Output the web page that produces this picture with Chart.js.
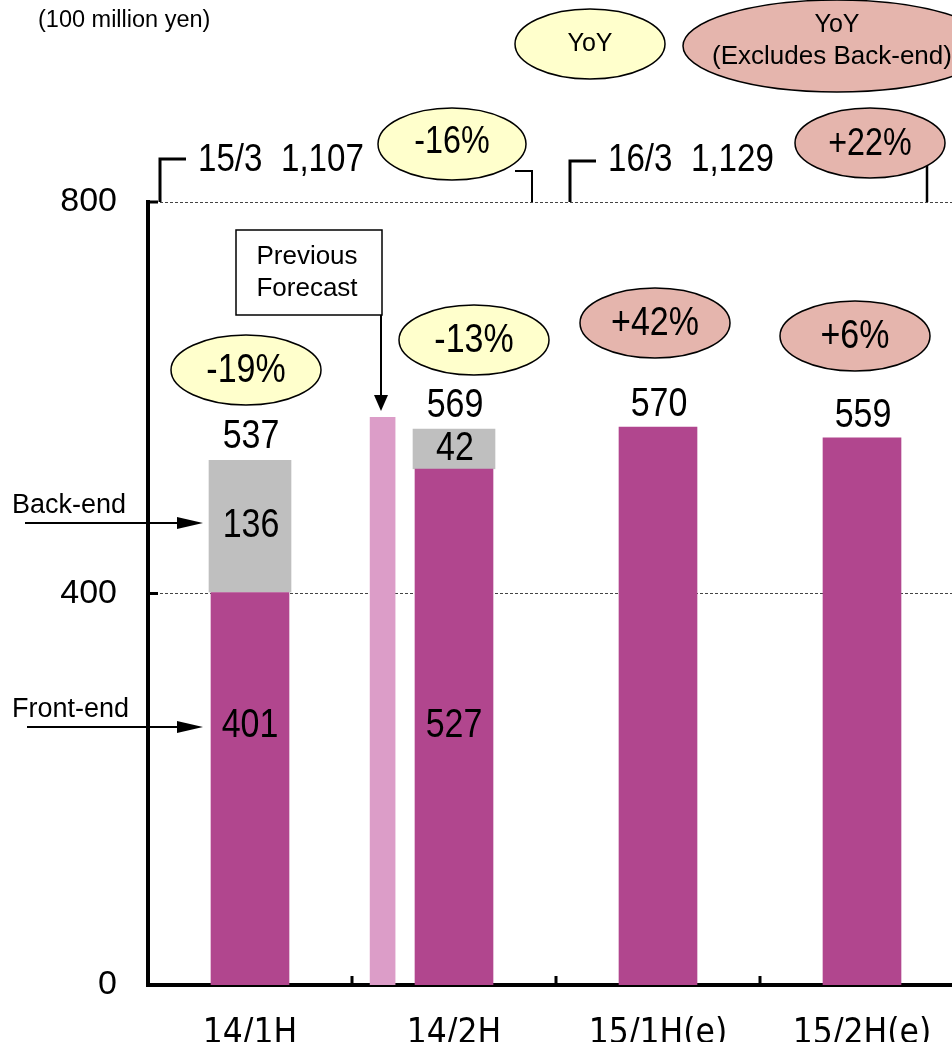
<!DOCTYPE html>
<html>
<head>
<meta charset="utf-8">
<script src="https://cdn.jsdelivr.net/npm/chart.js@4.4.0/dist/chart.umd.min.js"></script>
<style>
html, body { margin: 0; padding: 0; background: #fff; overflow: hidden; }
#wrap { width: 968px; height: 1042px; }
</style>
</head>
<body>
<div id="wrap"><canvas id="sales-chart" width="968" height="1042"></canvas></div>
<script>
// values (100 million yen)
var categories    = ['14/1H', '14/2H', '15/1H(e)', '15/2H(e)'];
var front_end     = [401, 527, 570, 559];
var back_end      = [136, 42, null, null];
var totals        = [537, 569, 570, 559];
var prev_forecast = 580;              // previous forecast for 14/2H
var yoy_labels    = ['-19%', '-13%', '+42%', '+6%'];
var yoy_ex_back   = [false, false, true, true];
var y_ticks       = [0, 400, 800];
var fy_labels     = ['15/3  1,107', '16/3  1,129'];
var fy_yoy        = ['-16%', '+22%'];
var fy_ex_back    = [false, true];

var SANS = '"Liberation Sans", Arial, sans-serif';
var COND = '"DejaVu Sans Condensed", "DejaVu Sans", sans-serif';
var YELLOW = '#FFFFCC', SALMON = '#E5B5AD';

ellipse = (ctx, cx, cy, rx, ry, fill) => {
    ctx.beginPath();
    ctx.ellipse(cx, cy, rx, ry, 0, 0, Math.PI * 2);
    ctx.fillStyle = fill;
    ctx.fill();
    ctx.lineWidth = 1.5;
    ctx.strokeStyle = '#000';
    ctx.stroke();
}

text = (ctx, str, x, y, font, align) => {
    ctx.font = font;
    ctx.fillStyle = '#000';
    ctx.textAlign = align || 'center';
    ctx.textBaseline = 'middle';
    ctx.fillText(str, x, y);
}

// narrow numerals: Liberation Sans squeezed horizontally
ntext = (ctx, str, x, y, size, align) => {
    ctx.save();
    ctx.translate(x, y);
    ctx.scale(0.85, 1);
    text(ctx, str, 0, 0, size + 'px ' + SANS, align);
    ctx.restore();
}

line = (ctx, pts, w) => {
    ctx.beginPath();
    ctx.moveTo(pts[0][0], pts[0][1]);
    for (var i = 1; i < pts.length; i++) ctx.lineTo(pts[i][0], pts[i][1]);
    ctx.lineWidth = w;
    ctx.strokeStyle = '#000';
    ctx.stroke();
}

arrowRight = (ctx, x1, x2, y) => {
    line(ctx, [[x1, y], [x2 - 20, y]], 2);
    ctx.beginPath();
    ctx.moveTo(x2, y); ctx.lineTo(x2 - 26, y - 6); ctx.lineTo(x2 - 26, y + 6); ctx.closePath();
    ctx.fillStyle = '#000';
    ctx.fill();
}

var annotations = {
    id: 'annotations',
    afterDraw: (chart) => {
        var ctx = chart.ctx, xs = chart.scales.x, ys = chart.scales.y;
        var area = chart.chartArea;
        ctx.save();

        // small inside tick marks
        y_ticks.slice(1).forEach(v => {
            var py = ys.getPixelForValue(v);
            line(ctx, [[area.left, py], [area.left + 10, py]], 3);
        });
        for (var i = 1; i < categories.length; i++) {
            var bx = (xs.getPixelForValue(i - 1) + xs.getPixelForValue(i)) / 2;
            line(ctx, [[bx, area.bottom], [bx, area.bottom - 9]], 3);
        }

        text(ctx, '(100 million yen)', 38, 21, '23.5px ' + SANS, 'left');

        // legend ellipses
        ellipse(ctx, 590, 44, 75, 35, YELLOW);
        text(ctx, 'YoY', 590, 44, '25px ' + SANS);
        ellipse(ctx, 837, 46, 154, 46, SALMON);
        text(ctx, 'YoY', 837, 25, '25px ' + SANS);
        text(ctx, '(Excludes Back-end)', 832, 57, '26px ' + SANS);

        // fiscal-year brackets
        var top = ys.getPixelForValue(800);
        line(ctx, [[160, top], [160, 159], [186, 159]], 3);
        line(ctx, [[515, 171], [532, 171], [532, top]], 2);
        line(ctx, [[570, top], [570, 161], [596, 161]], 3);
        line(ctx, [[927, 166], [927, top]], 2.5);
        ntext(ctx, fy_labels[0], 198, 160, 39, 'left');
        ntext(ctx, fy_labels[1], 608, 160, 39, 'left');
        ellipse(ctx, 452, 144, 74, 36, fy_ex_back[0] ? SALMON : YELLOW);
        ntext(ctx, fy_yoy[0], 452, 143, 38);
        ellipse(ctx, 870, 143, 75, 35, fy_ex_back[1] ? SALMON : YELLOW);
        ntext(ctx, fy_yoy[1], 870, 145, 38);

        // YoY ellipses above the bars
        var yoy_pos = [[246, 370], [474, 340], [655, 323], [855, 336]];
        yoy_labels.forEach((s, i) => {
            ellipse(ctx, yoy_pos[i][0], yoy_pos[i][1], 75, 35, yoy_ex_back[i] ? SALMON : YELLOW);
            ntext(ctx, s, yoy_pos[i][0], yoy_pos[i][1] + 1, 40);
        });

        // bar values
        categories.forEach((c, i) => {
            var cx = xs.getPixelForValue(i);
            ntext(ctx, String(totals[i]), cx + 1, ys.getPixelForValue(totals[i]) - 22, 40);
            if (back_end[i] != null) {
                ntext(ctx, String(back_end[i]), cx + 1, ys.getPixelForValue(front_end[i] + back_end[i] / 2), 40);
                ntext(ctx, String(front_end[i]), cx, ys.getPixelForValue(265), 40);
            }
        });

        // previous forecast call-out
        ctx.fillStyle = '#fff';
        ctx.fillRect(236, 230, 146, 85);
        ctx.lineWidth = 1.5;
        ctx.strokeStyle = '#000';
        ctx.strokeRect(236, 230, 146, 85);
        text(ctx, 'Previous', 307, 257, '26px ' + SANS);
        text(ctx, 'Forecast', 307, 289, '26px ' + SANS);
        line(ctx, [[381, 315], [381, 398]], 2);
        ctx.beginPath();
        ctx.moveTo(381, 411); ctx.lineTo(374, 395); ctx.lineTo(388, 395); ctx.closePath();
        ctx.fillStyle = '#000';
        ctx.fill();

        // segment labels with arrows
        text(ctx, 'Back-end', 12, 506, '27px ' + SANS, 'left');
        arrowRight(ctx, 25, 203, 523);
        text(ctx, 'Front-end', 12, 710, '27px ' + SANS, 'left');
        arrowRight(ctx, 27, 203, 727);

        ctx.restore();
    }
};

(function () {
    new Chart(document.getElementById('sales-chart'), {
        type: 'bar',
        data: {
            labels: categories,
            datasets: [{
                label: 'Front-end',
                data: front_end,
                backgroundColor: '#B1468E',
                barThickness: 78,
                stack: 'main',
                grouped: false
            }, {
                label: 'Back-end',
                data: back_end,
                backgroundColor: '#BFBFBF',
                borderColor: '#fff',
                borderWidth: 1,
                barThickness: 84,
                stack: 'main',
                grouped: false
            }, {
                label: 'Previous Forecast',
                data: [{ x: categories.indexOf('14/2H') - 0.35, y: prev_forecast }],
                xAxisID: 'xf',
                backgroundColor: '#DC9DC8',
                barThickness: 25,
                stack: 'main',
                grouped: false
            }]
        },
        options: {
            responsive: false,
            animation: false,
            layout: { padding: { top: 202, right: 4, left: 0, bottom: 0 } },
            plugins: { legend: { display: false }, tooltip: { enabled: false } },
            scales: {
                x: {
                    stacked: true,
                    grid: { display: false },
                    border: { color: '#000', width: 4 },
                    ticks: { color: '#000', font: { family: COND, size: 35 }, padding: 20 },
                    afterFit: (s) => { s.height = 57; }
                },
                xf: { type: 'linear', display: false, offset: false, min: -0.5, max: 3.5 },
                y: {
                    stacked: true,
                    min: 0,
                    max: 800,
                    afterBuildTicks: (s) => { s.ticks = y_ticks.map(v => ({ value: v })); },
                    ticks: { color: '#000', font: { family: SANS, size: 34 }, padding: 31 },
                    grid: {
                        drawTicks: false,
                        color: '#444',
                        lineWidth: (c) => c.tick && c.tick.value === 0 ? 0 : 1
                    },
                    border: { color: '#000', width: 4, dash: [3, 2] },
                    afterFit: (s) => { s.width = 148; }
                }
            }
        },
        plugins: [annotations]
    });
}());
</script>
</body>
</html>
